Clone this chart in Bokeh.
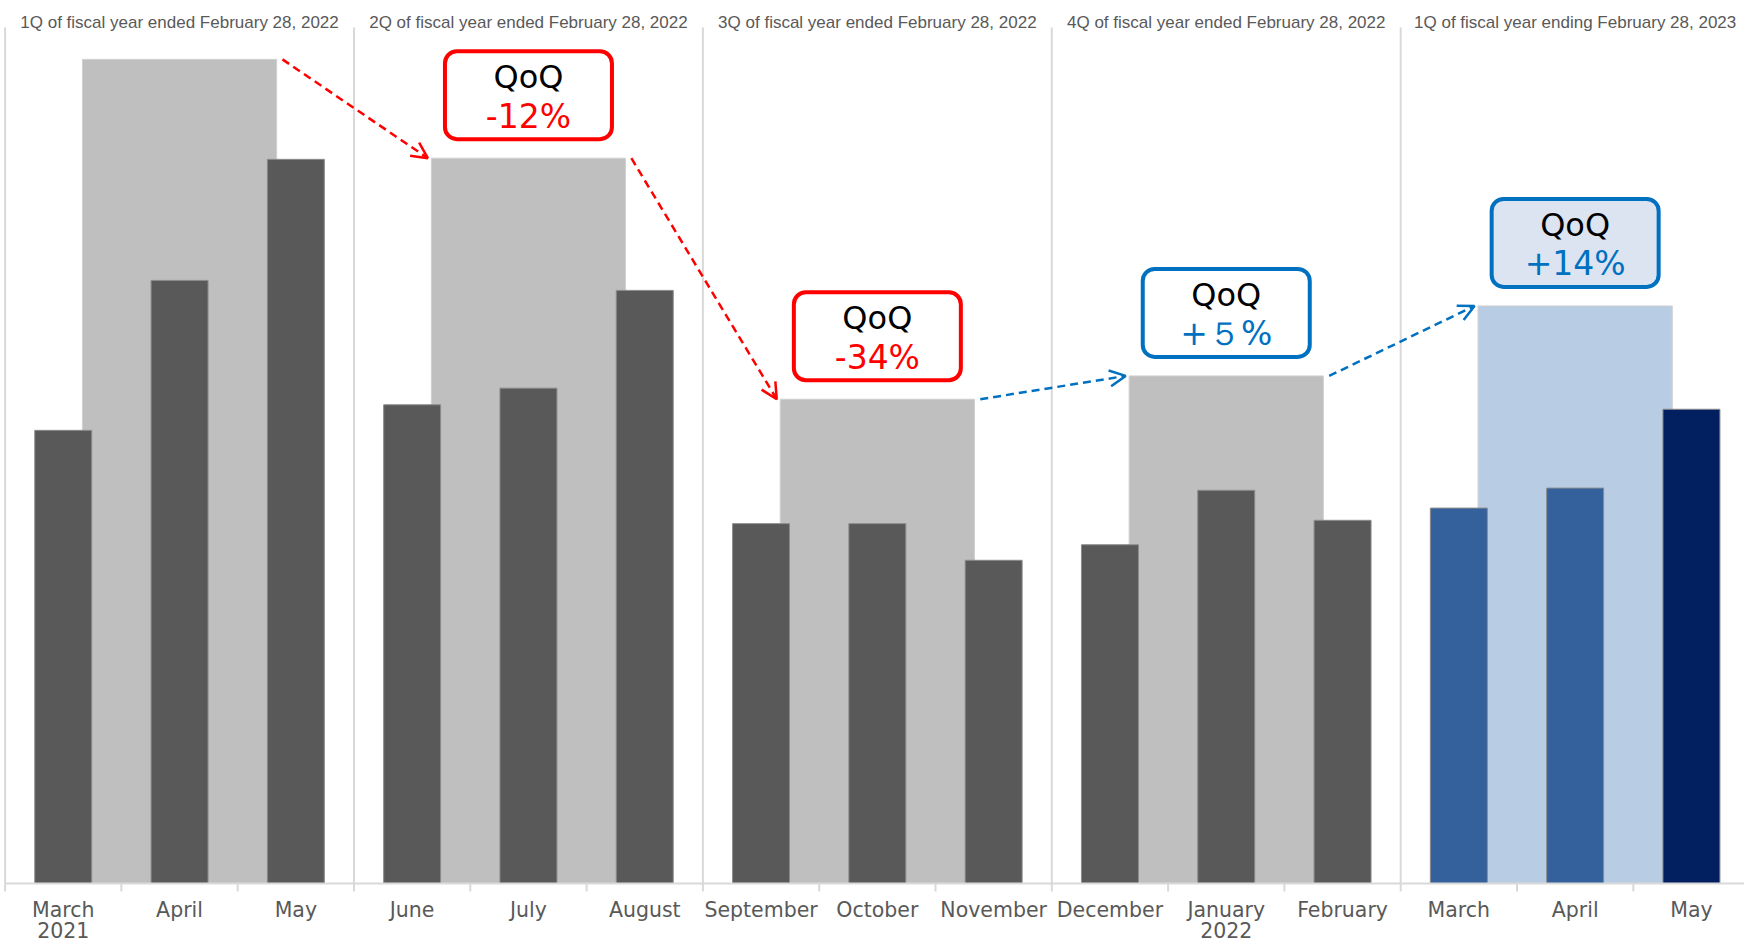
from bokeh.plotting import figure
from bokeh.models import ColumnDataSource, Range1d, Arrow, OpenHead
from bokeh.core.properties import value
from bokeh.embed import file_html
from bokeh.resources import INLINE

# ---------------- data ----------------
months = ["March", "April", "May", "June", "July", "August", "September",
          "October", "November", "December", "January", "February",
          "March", "April", "May"]
years = ["2021", "", "", "", "", "", "", "", "", "", "2022", "", "", "", ""]
monthly = [408, 543, 652, 431, 446, 534, 324, 324, 291, 305, 354, 327, 338, 356, 427]

quarters = ["1Q of fiscal year ended February 28, 2022",
            "2Q of fiscal year ended February 28, 2022",
            "3Q of fiscal year ended February 28, 2022",
            "4Q of fiscal year ended February 28, 2022",
            "1Q of fiscal year ending February 28, 2023"]
quarterly = [742, 653, 436, 457, 520]
qoq_labels = ["-12%", "-34%", "+５%", "+14%"]

# ---------------- styles ----------------
W, H = 1744, 942
BASE_PX = 883            # pixel row of the baseline
Y_END = 795
PXY = BASE_PX / Y_END    # pixels per value unit
MONTH_PX = 116.3
X0_PX = 4.6

month_colors = ["#595959"] * 12 + ["#34609B", "#34609B", "#022060"]
quarter_colors = ["#BFBFBF"] * 4 + ["#B8CCE4"]
RED, BLUE = "#FF0000", "#0070C0"
GRID = "#D9D9D9"
TXT = "#595959"
BAR_W = 0.49
Q_W = 1.67

p = figure(width=W, height=H,
           x_range=Range1d(-X0_PX / MONTH_PX, (W - X0_PX) / MONTH_PX),
           y_range=Range1d(-(H - BASE_PX) / PXY, Y_END),
           output_backend="svg", toolbar_location=None,
           x_axis_type=None, y_axis_type=None, min_border=0)
p.grid.visible = False
p.outline_line_color = None
p.background_fill_color = "white"
p.border_fill_color = "white"

n = len(months)
mx = [i + 0.5 for i in range(n)]
qx = [3 * k + 1.5 for k in range(len(quarters))]

# quarter (wide) bars behind
qsrc = ColumnDataSource(dict(x=qx, top=quarterly, color=quarter_colors, label=quarters))
p.vbar(x="x", top="top", bottom=0, width=Q_W, source=qsrc,
       fill_color="color", line_color="#D0D0D0", line_width=1)

# monthly bars
msrc = ColumnDataSource(dict(x=mx, top=monthly, color=month_colors,
                             month=months, year=years))
p.vbar(x="x", top="top", bottom=0, width=BAR_W, source=msrc,
       fill_color="color", line_color="#8C8C8C", line_width=1)

# separators between quarters
sep_x = [3 * k for k in range(len(quarters) + 1)]
sep_top = (BASE_PX - 27) / PXY
p.segment(x0=sep_x, y0=[0] * len(sep_x), x1=sep_x, y1=[sep_top] * len(sep_x),
          line_color=GRID, line_width=2)

# axis line and tick marks
bounds = list(range(n + 1))
p.segment(x0=[0], y0=[0], x1=[n], y1=[0], line_color=GRID, line_width=2)
p.segment(x0=bounds, y0=[0] * len(bounds), x1=bounds, y1=[-8 / PXY] * len(bounds),
          line_color=GRID, line_width=2)

# month labels
p.text(x="x", y=0, text="month", source=msrc, y_offset=26,
       text_align="center", text_baseline="middle",
       text_font=value("DejaVu Sans"), text_font_size=value("20.5px"), text_color=TXT)
p.text(x="x", y=0, text="year", source=msrc, y_offset=46,
       text_align="center", text_baseline="middle",
       text_font=value("DejaVu Sans"), text_font_size=value("20.5px"), text_color=TXT)

# quarter headers
p.text(x="x", y=(BASE_PX - 22) / PXY, text="label", source=qsrc,
       text_align="center", text_baseline="middle",
       text_font=value("Liberation Sans"), text_font_size=value("17px"), text_color=TXT)

# arrows + QoQ boxes
BOX_W, BOX_H, GAP = 167, 88, 19
bx, by, bline, bfill, btxt = [], [], [], [], []
for k in range(len(quarters) - 1):
    c = RED if quarterly[k + 1] < quarterly[k] else BLUE
    arr = Arrow(x_start=qx[k] + Q_W / 2 + 0.05, y_start=quarterly[k],
                x_end=qx[k + 1] - Q_W / 2 - 0.03, y_end=quarterly[k + 1],
                line_color=c, line_width=2.5, line_dash="8 5",
                end=OpenHead(size=16, line_color=c, line_width=2.5))
    p.add_layout(arr)
    bx.append(qx[k + 1])
    by.append(quarterly[k + 1] + (GAP + BOX_H / 2) / PXY)
    bline.append(c)
    bfill.append("#DCE3F1" if k == len(quarters) - 2 else "white")
    btxt.append(qoq_labels[k])

bsrc = ColumnDataSource(dict(x=bx, y=by, line=bline, fill=bfill, txt=btxt,
                             head=["QoQ"] * len(bx)))
p.rect(x="x", y="y", width=BOX_W, height=BOX_H, width_units="screen",
       height_units="screen", source=bsrc, fill_color="fill", line_color="line",
       line_width=4, border_radius=12)
p.text(x="x", y="y", text="head", source=bsrc, y_offset=-18,
       text_align="center", text_baseline="middle",
       text_font=value("DejaVu Sans"), text_font_size=value("32px"), text_color="black")
p.text(x="x", y="y", text="txt", source=bsrc, y_offset=21,
       text_align="center", text_baseline="middle",
       text_font=value("DejaVu Sans"), text_font_size=value("33px"), text_color="line")

open("out.html", "w").write(file_html(p, INLINE))
